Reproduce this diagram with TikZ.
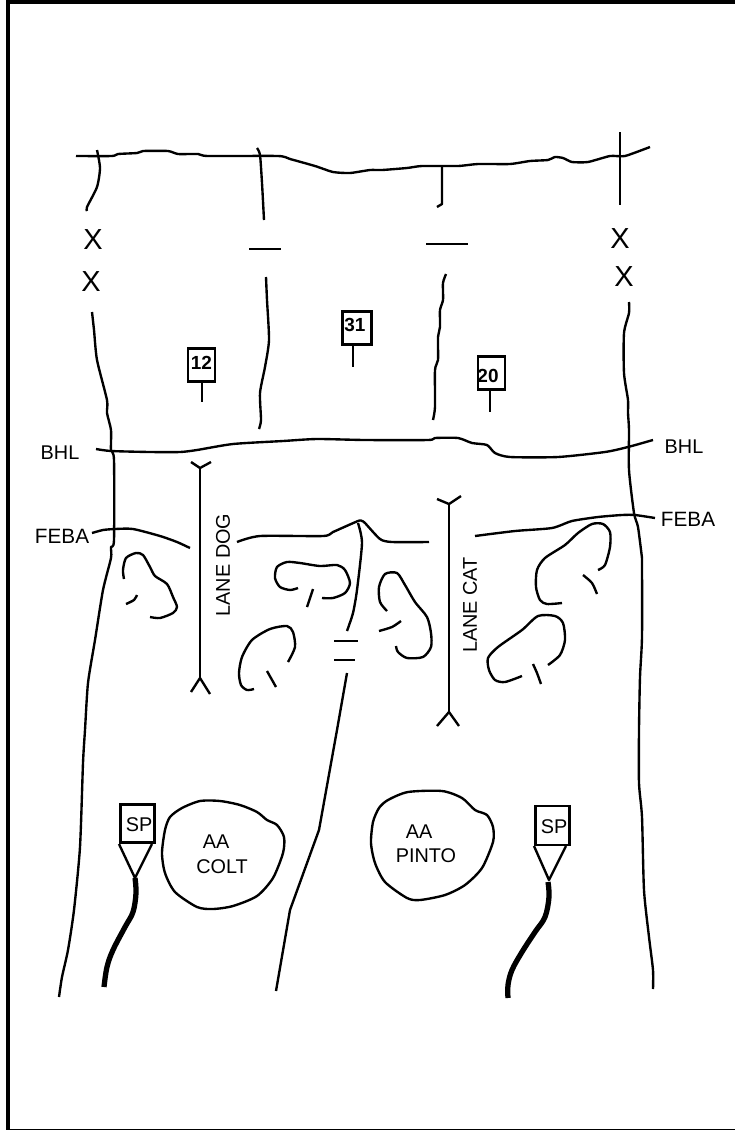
\documentclass[tikz,border=0pt]{standalone}
\usepackage{fontspec}
\setmainfont{Liberation Sans}
\usepackage{tikz}
\usetikzlibrary{positioning,arrows.meta}

\tikzset{
  sketch/.style={line width=1.35pt,line cap=butt,line join=round},
  heavy/.style={line width=3pt,line join=round},
  lbl/.style={inner sep=0pt,font=\fontsize{11.3}{13}\selectfont},
  febalbl/.style={inner sep=0pt,font=\fontsize{11.8}{13}\selectfont},
  obstacle/.style={inner sep=0pt,font=\fontsize{16.5}{18}\selectfont},
  unitbox/.style={draw,line width=1.35pt,inner sep=0pt,outer sep=0pt},
  unitno/.style={inner sep=0pt,font=\fontsize{10.8}{12}\selectfont\bfseries},
}

\begin{document}
\begin{tikzpicture}[x=0.02cm,y=-0.02cm]
\useasboundingbox (0,0) rectangle (735,1130);
% frame
\draw[line width=2.3pt] (8,1130) -- (8,2) -- (735,2);
\draw[line width=0.6pt] (8,1129.3) -- (735,1129.3);
% top phase line
\draw[sketch] plot[smooth,tension=0.35] coordinates {
  (76,156)(112,156)(118,154)(137,153)(143,151)(168,151)(178,154)(198,154)(208,156)
  (278,156)(290,159)(315,166)(333,172)(350,173)(370,170)(382,170)(407,168)(422,166)
  (458,166)(478,164)(510,164)(530,161)(548,160)(555,157)(563,158)(572,162)(588,162)
  (610,156)(625,156)(650,147)};
% boundaries (top to bottom)
\draw[sketch] plot[smooth,tension=0.4] coordinates {(97,150)(100,168)(97,187)(87,207)(87,211)};
\draw[sketch] plot[smooth,tension=0.4] coordinates {
  (92,312)(94,330)(97,360)(107,400)(107,413)(111,430)(111,450)(114,460)(114,540)
  (111,547)(111,558)(103,590)(95,640)(88,683)(85,730)(83,763)(80,847)(74,910)(68,950)(62,977)(59,997)};
\draw[sketch] plot[smooth,tension=0.4] coordinates {(257,148)(260,155)(262,183)(264,220)};
\draw[sketch] plot[smooth,tension=0.4] coordinates {
  (266,277)(267,300)(269,340)(265,367)(260,393)(261,420)(259,429)};
\draw[sketch] (442,165) -- (442,204) -- (437,207);
\draw[sketch] plot[smooth,tension=0.4] coordinates {
  (446,274)(443,283)(443,300)(440,310)(440,327)(438,337)(438,360)(435,370)(435,407)(433,420)};
\draw[sketch] (620,132) -- (620,205);
\draw[sketch] plot[smooth,tension=0.4] coordinates {
  (629,302)(629,313)(624,333)(624,373)(628,400)(628,413)(629,430)(629,470)(634,513)(638,527)(642,558)};
\draw[sketch] plot[smooth,tension=0.4] coordinates {
  (642,558)(642,637)(640,677)(639,730)(639,783)(642,817)(644,890)(649,937)(653,970)(653,989)};
% gaps in the boundaries
\draw[sketch] (249,249) -- (281,249);
\draw[sketch] (426,244) -- (468,244);
\draw[sketch] (334,641) -- (358,641);
\draw[sketch] (334,660) -- (355,660);
\foreach \nm/\xx/\yy in {a/93/240,b/91/282,c/620/239,d/624/277}
  {\node[obstacle] (x\nm) at (\xx,\yy) {X};}
% BHL
\draw[sketch] plot[smooth,tension=0.4] coordinates {
  (96,449)(111,451)(150,452)(180,452)(197,450)(233,444)(283,441)(317,439)(365,440)(428,440)
  (435,438)(458,438)(472,443)(487,445)(495,453)(510,457)(558,457)(605,452)(628,447)(653,440)};
\node[lbl] (bhlw) at (60,453) {BHL};
\node[lbl] (bhle) at (684,447) {BHL};
% FEBA
\draw[sketch] plot[smooth,tension=0.4] coordinates {
  (92,533)(103,530)(115,529)(133,529)(160,536)(177,542)(190,548)};
\draw[sketch] plot[smooth,tension=0.4] coordinates {
  (237,542)(260,536)(323,536)(333,532)(358,521)(362,521)(365,523)(380,539)(392,542)(429,542)};
\draw[sketch] plot[smooth,tension=0.4] coordinates {
  (475,536)(515,531)(552,528)(572,521)(598,517)(622,515)(635,515)(655,518)};
\node[febalbl] (febaw) at (62,536) {FEBA};
\node[febalbl] (febae) at (688,519) {FEBA};
% central boundary
\draw[sketch] plot[smooth,tension=0.4] coordinates {(358,523)(362,543)(357,590)(353,613)(347,631)};
\draw[sketch] (347,673) -- (337,730) -- (319,830) -- (290,910) -- (276,991);
% lanes
\coordinate (dogt) at (200,468);
\coordinate (dogb) at (200,678);
\draw[sketch] (dogt) -- (dogb);
\draw[sketch] (191,462) -- (dogt) -- (211,462);
\draw[sketch] (191,692) -- (dogb) -- (210,694);
\node[lbl,rotate=90] (lanedog) at (223,565) {LANE DOG};
\coordinate (catt) at (449,504);
\coordinate (catb) at (449,712);
\draw[sketch] (catt) -- (catb);
\draw[sketch] (437,499) -- (catt) -- (461,496);
\draw[sketch] (437,726) -- (catb) -- (459,726);
\node[lbl,rotate=90] (lanecat) at (470,605) {LANE CAT};
% units
\node[unitbox,minimum width=15.3pt,minimum height=18.7pt] (box12) at (201.5,365) {};
\node[unitno] (no12) at (201.5,363) {12};
\coordinate (foot12) at (202,402);
\draw[sketch] (202,382) -- (foot12);
\node[unitbox,minimum width=16.4pt,minimum height=18.7pt] (box31) at (357,328) {};
\node[unitno] (no31) at (355,325) {31};
\coordinate (foot31) at (353,367);
\draw[sketch] (353,345) -- (foot31);
\node[unitbox,minimum width=15.3pt,minimum height=18.7pt] (box20) at (491.5,373) {};
\node[unitno] (no20) at (488,376) {20};
\coordinate (foot20) at (490,412);
\draw[sketch] (490,390) -- (foot20);
% battle positions
\draw[sketch] plot[smooth,tension=0.45] coordinates {
  (124,579)(123,570)(126,558)(136,553)(143,555)(150,567)(155,576)(167,584)(173,597)(177,607)(173,613)(160,618)(150,617)};
\draw[sketch] plot[smooth,tension=0.45] coordinates {(126,604)(134,600)(137,595)};
\draw[sketch] plot[smooth,tension=0.45] coordinates {
  (298,588)(290,590)(280,587)(275,578)(277,567)(287,562)(300,563)(320,566)(337,565)(345,570)(350,583)(345,593)(333,598)(322,598)};
\draw[sketch] (313,589) -- (307,607);
\draw[sketch] plot[smooth,tension=0.45] coordinates {
  (254,689)(247,690)(241,685)(239,673)(242,657)(252,640)(270,629)(287,626)(293,632)(295,647)(288,662)};
\draw[sketch] (267,671) -- (276,687);
\draw[sketch] plot[smooth,tension=0.45] coordinates {
  (387,611)(380,602)(379,587)(385,574)(397,573)(405,585)(415,602)(427,617)(431,633)(431,647)(423,657)(407,658)(398,652)(396,646)};
\draw[sketch] plot[smooth,tension=0.45] coordinates {(379,631)(392,627)(401,621)};
\draw[sketch] plot[smooth,tension=0.45] coordinates {
  (562,603)(547,604)(540,600)(536,587)(537,570)(545,558)(565,545)(578,533)(592,524)(603,524)(610,532)(610,547)(605,565)(598,570)};
\draw[sketch] plot[smooth,tension=0.45] coordinates {(583,575)(592,583)(597,594)};
\draw[sketch] plot[smooth,tension=0.45] coordinates {
  (522,676)(505,682)(495,680)(489,670)(488,658)(498,647)(522,630)(538,616)(555,616)(563,623)(565,640)(560,655)(548,665)};
\draw[sketch] plot[smooth,tension=0.45] coordinates {(533,664)(537,673)(541,684)};
% assembly areas
\draw[sketch] plot[smooth cycle,tension=0.45] coordinates {
  (170,817)(182,808)(200,801)(220,801)(240,805)(257,812)(267,820)(277,825)(284,837)(283,853)
  (273,878)(257,896)(233,906)(213,909)(197,907)(175,892)(165,873)(162,853)(165,830)};
\node[lbl] (aacolt) at (216,842) {AA};
\node[lbl] (colt) at (222,867) {COLT};
\draw[sketch] plot[smooth cycle,tension=0.45] coordinates {
  (379,808)(388,800)(408,792)(442,791)(462,798)(475,810)(487,815)(493,827)(493,842)
  (482,868)(465,885)(445,895)(420,900)(407,898)(385,882)(375,863)(371,843)(373,822)};
\node[lbl] (aapinto) at (419,832) {AA};
\node[lbl] (pinto) at (426,856) {PINTO};
% support points
\node[unitbox,minimum width=19.2pt,minimum height=21.5pt] (spw) at (137.5,823.5) {};
\node[lbl] (spwt) at (139,825) {SP};
\draw[sketch] (119,844) -- (135,878) -- (152,844);
\draw[heavy] plot[smooth,tension=0.6] coordinates {
  (135,878)(136,893)(133,912)(125,927)(113,950)(107,967)(104,987)};
\node[unitbox,minimum width=19.2pt,minimum height=22pt] (spe) at (552.5,825.5) {};
\node[lbl] (spet) at (554,827) {SP};
\draw[sketch] (534,846) -- (549,880) -- (566,846);
\draw[heavy] plot[smooth,tension=0.6] coordinates {
  (548,882)(549,897)(545,917)(535,932)(522,952)(512,970)(508,985)(508,998)};
\end{tikzpicture}
\end{document}
